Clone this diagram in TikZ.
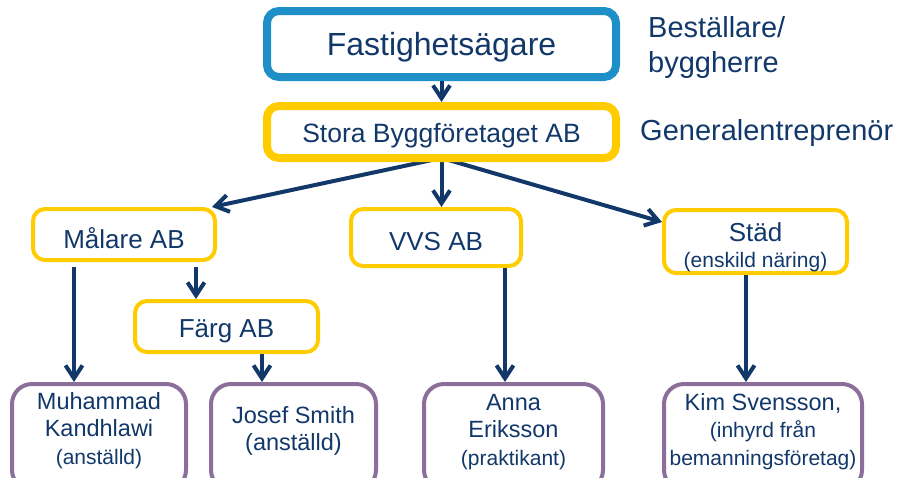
\documentclass[tikz,border=0pt]{standalone}
\usepackage{fontspec}
\setmainfont{Liberation Sans}
\usetikzlibrary{positioning,arrows.meta,backgrounds}
\definecolor{navy}{HTML}{12386A}
\definecolor{ownerblue}{HTML}{1E8FC7}
\definecolor{firmyellow}{HTML}{FFCC00}
\definecolor{staffpurple}{HTML}{8B6E9A}
\newcommand{\fsz}[2]{\fontsize{#1}{#2}\selectfont}

\tikzset{
  boxbase/.style={rectangle, rounded corners=12pt, fill=white, text=navy, align=center, inner sep=0pt},
  ownerbox/.style={boxbase, draw=ownerblue, line width=8pt},
  mainbox/.style={boxbase, draw=firmyellow, line width=8pt},
  firmbox/.style={boxbase, draw=firmyellow, line width=4pt, font=\fsz{26}{26}},
  staffbox/.style={boxbase, draw=staffpurple, line width=4pt, rounded corners=20pt, font=\fsz{23.5}{27.5}},
  role/.style={text=navy, align=left, inner sep=0pt, font=\fsz{29}{35}},
  arr/.style={draw=navy, line width=4pt, -{Straight Barb[length=13pt,width=17pt]}}
}

\begin{document}
\begin{tikzpicture}[x=1pt,y=-1pt]
\useasboundingbox (0,0) rectangle (901,477);
\clip (0,0) rectangle (901,477);

% top level
\node[ownerbox, minimum width=349pt, minimum height=66pt, font=\fsz{32}{36}, text height=29pt, text depth=6.5pt] (agare) at (441.5,44) {Fastighetsägare};
\node[mainbox, minimum width=349pt, minimum height=52pt, font=\fsz{26.5}{30}, text height=25.5pt, text depth=5.5pt] (bygg) at (441.5,132) {Stora Byggföretaget AB};
\node[role, anchor=base west] (bestallare) at (648,72) {Beställare/\\byggherre};
\node[role, anchor=base west] (ge) at (640,140) {Generalentreprenör};

% subcontractors
\node[firmbox, minimum width=182pt, minimum height=51pt, text height=27pt, text depth=0pt] (malare) at (124,234.5) {Målare AB};
\node[firmbox, minimum width=170pt, minimum height=57pt, text height=25pt, text depth=0pt] (vvs) at (436,237.5) {VVS AB};
\node[firmbox, minimum width=183pt, minimum height=63pt, text height=55.4pt, text depth=4.4pt] (stad) at (755.5,241.5) {Städ\\{\fsz{21}{26}(enskild näring)}};
\node[firmbox, minimum width=183pt, minimum height=51pt, text height=26.5pt, text depth=5.5pt] (farg) at (226.5,326.5) {Färg AB};

% people
\node[staffbox, minimum width=174pt, minimum height=106pt, text height=58.4pt, text depth=4.4pt] (muhammad) at (99,437) {Muhammad\\Kandhlawi\\{\fsz{21}{27.5}(anställd)}};
\node[staffbox, minimum width=165pt, minimum height=106pt, text height=32pt, text depth=5pt] (josef) at (293.5,437) {Josef Smith\\(anställd)};
\node[staffbox, minimum width=179pt, minimum height=106pt, text height=60.4pt, text depth=4.4pt] (anna) at (513.5,437) {Anna\\Eriksson\\{\fsz{21}{27.5}(praktikant)}};
\node[staffbox, minimum width=198pt, minimum height=106pt, text height=60.4pt, text depth=4.4pt] (kim) at (763,437) {Kim Svensson,\\{\fsz{21}{27.5}(inhyrd från}\\{\fsz{21}{27.5}bemanningsföretag)}};

% connectors
\begin{scope}[on background layer]
\draw[arr] ([yshift=4pt]bygg.south) -- ([xshift=-5pt]malare.north east);
\draw[arr] ([yshift=4pt]bygg.south) -- (bygg.south |- vvs.north);
\draw[arr] ([yshift=4pt]bygg.south) -- ([yshift=-14pt]stad.north west);
\end{scope}
\draw[arr] (agare.south) -- (bygg.north);
\draw[arr, shorten <=5pt] ([xshift=-50pt]malare.south) -- ([xshift=-50pt]malare.south |- muhammad.north);
\draw[arr, shorten <=5pt] ([xshift=72pt]malare.south) -- ([xshift=72pt]malare.south |- farg.north);
\draw[arr] ([xshift=35.5pt]farg.south) -- ([xshift=35.5pt]farg.south |- josef.north);
\draw[arr] ([xshift=69pt]vvs.south) -- ([xshift=69pt]vvs.south |- anna.north);
\draw[arr] ([xshift=-9.5pt]stad.south) -- ([xshift=-9.5pt]stad.south |- kim.north);
\end{tikzpicture}
\end{document}
